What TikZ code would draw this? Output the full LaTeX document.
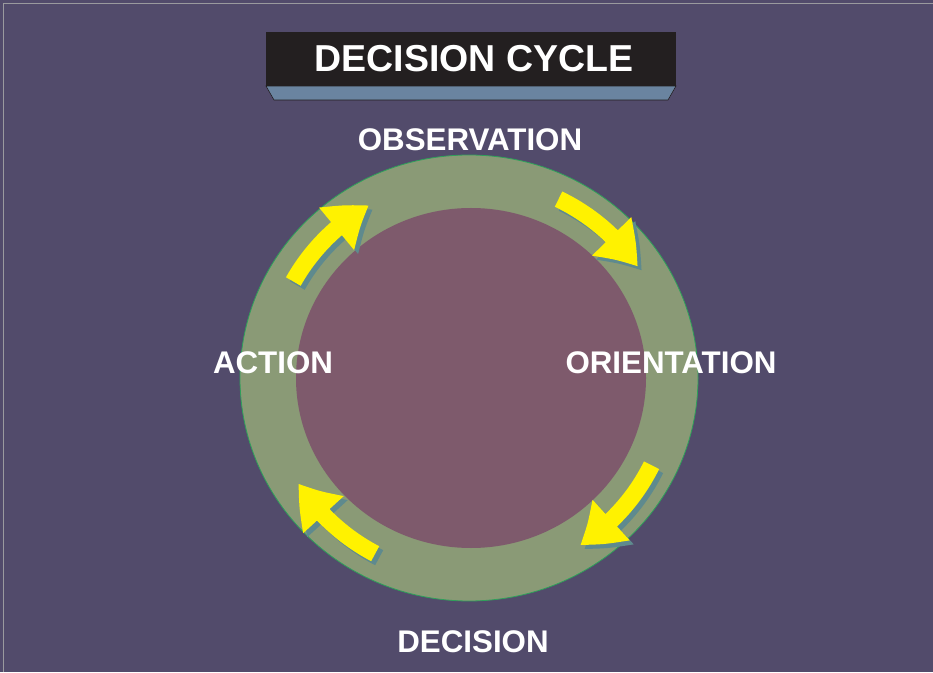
\documentclass[tikz,border=0pt]{standalone}
\usepackage{fontspec}
\setmainfont{Liberation Sans}
\usetikzlibrary{positioning,arrows.meta,calc,bending}
\definecolor{slateBg}{HTML}{524B6B}
\definecolor{frameGray}{HTML}{9A9A9E}
\definecolor{ringGreen}{HTML}{8A9A76}
\definecolor{ringLine}{HTML}{2EA05A}
\definecolor{coreMauve}{HTML}{7E5A6C}
\definecolor{titleBlack}{HTML}{231F20}
\definecolor{slabBlue}{HTML}{6A84A0}
\definecolor{arrowYellow}{HTML}{FFF200}
\definecolor{shadowTeal}{HTML}{5E8A8E}
\tikzset{
    phase/.style={text=white,font=\fontsize{31.3}{33}\selectfont\bfseries,
        inner sep=0pt,anchor=center},
    titletext/.style={text=white,font=\fontsize{37.5}{40}\selectfont\bfseries,
        inner sep=0pt,anchor=center},
    cyclearrow/.style={draw=arrowYellow,line width=17pt,
        -{Triangle[length=40pt,width=52pt,bend]}},
    cycleshadow/.style={draw=shadowTeal,line width=17pt,
        -{Triangle[length=40pt,width=52pt,bend]}}
}
\begin{document}
\begin{tikzpicture}[x=1pt,y=1pt]
    \useasboundingbox (0,0) rectangle (933,672);
    \fill[slateBg] (0,0) rectangle (933,672);
    \draw[frameGray,line width=1.5pt] (3.5,0) -- (3.5,668.5) -- (933,668.5);

    % title banner
    \fill[slabBlue,draw=titleBlack,line width=0.6pt]
        (266,586) -- (676,586) -- (668,572) -- (274,572) -- cycle;
    \fill[titleBlack] (266,586) rectangle (676,640);
    \node[titletext] (title) at (474,613) {DECISION CYCLE};

    % ring and core
    \coordinate (ctr) at (470,294);
    \fill[ringGreen,draw=ringLine,line width=0.8pt]
        (469,294) ellipse [x radius=229, y radius=223];
    \fill[coreMauve] (471,294) ellipse [x radius=175, y radius=170];

    % arrows with shadows
    \foreach \sa/\ea in {151/120, 64/34, -26/-57, 242/212}{
        \draw[cycleshadow] ($(ctr)+(4,-4)+(\sa:202 and 199)$)
            arc[start angle=\sa, end angle=\ea, x radius=202, y radius=199];
        \draw[cyclearrow] ($(ctr)+(\sa:202 and 199)$)
            arc[start angle=\sa, end angle=\ea, x radius=202, y radius=199];
    }

    % phase labels
    \node[phase] (observation) at (470,532) {OBSERVATION};
    \node[phase] (orientation) at (671,309) {ORIENTATION};
    \node[phase] (decision) at (473,30) {DECISION};
    \node[phase] (action) at (273,309) {ACTION};
\end{tikzpicture}
\end{document}
